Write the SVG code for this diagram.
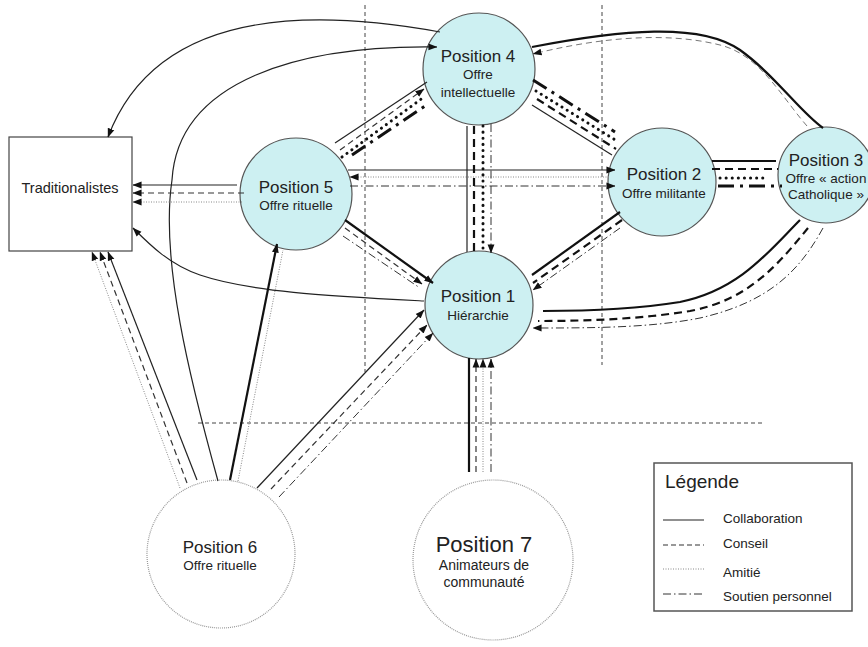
<svg xmlns="http://www.w3.org/2000/svg" width="868" height="647" viewBox="0 0 868 647">
<style>
text{font-family:"Liberation Sans",Arial,sans-serif;fill:#222}
.t{font-size:17px;text-anchor:middle}
.s{font-size:13.5px;text-anchor:middle}
.node{fill:#cdf0f2;stroke:#555;stroke-width:1.2}
.wnode{fill:#fff;stroke:#999;stroke-width:1.2;stroke-dasharray:1 1}
.sep{fill:none;stroke:#444;stroke-width:1;stroke-dasharray:4 3}
.cx path,.cx line,.lg line{fill:none}
.ah{fill:#111;stroke:none}
.col{stroke:#222;stroke-width:1.2}
.colT{stroke:#111;stroke-width:2.2}
.con{stroke:#333;stroke-width:1.2;stroke-dasharray:6 4}
.conT{stroke:#111;stroke-width:2.2;stroke-dasharray:8 5}
.ami{stroke:#888;stroke-width:1;stroke-dasharray:1 1.5}
.amiT{stroke:#111;stroke-width:3;stroke-dasharray:0.1 6;stroke-linecap:round}
.sou{stroke:#333;stroke-width:1;stroke-dasharray:8 3 1.5 3}
.souT{stroke:#111;stroke-width:3;stroke-dasharray:16 6 3 6}
.a{marker-end:url(#arr)}
</style>
<defs>
<marker id="arr" viewBox="0 0 10 10" refX="9.5" refY="5" markerUnits="userSpaceOnUse" markerWidth="9" markerHeight="9" orient="auto">
<path class="ah" d="M0,1.2 L10,5 L0,8.8 z"/>
</marker>
</defs>
<rect width="868" height="647" fill="#fff"/>
<g id="separators">
<line class="sep" x1="365" y1="5" x2="365" y2="372"/>
<line class="sep" x1="602" y1="5" x2="602" y2="365"/>
<line class="sep" x1="198" y1="423" x2="762" y2="423"/>
</g>
<g id="traditionalistes">
<rect x="9" y="137" width="123" height="114" fill="#fff" stroke="#444" stroke-width="1.2"/>
<text x="70" y="193" style="font-size:14.5px;text-anchor:middle">Traditionalistes</text>
</g>
<g id="position4">
<circle class="node" cx="479" cy="69" r="56"/>
<text class="t" x="478" y="62">Position 4</text>
<text class="s" x="478" y="79">Offre</text>
<text class="s" x="478" y="97">intellectuelle</text>
</g>
<g id="position5">
<circle class="node" cx="296" cy="194" r="56"/>
<text class="t" x="296" y="193">Position 5</text>
<text class="s" x="296" y="210">Offre rituelle</text>
</g>
<g id="position2">
<circle class="node" cx="662" cy="182" r="54"/>
<text class="t" x="664" y="180">Position 2</text>
<text class="s" x="664" y="198">Offre militante</text>
</g>
<g id="position3">
<circle class="node" cx="826" cy="175" r="48"/>
<text class="t" x="826" y="166">Position 3</text>
<text class="s" x="826" y="183">Offre « action</text>
<text class="s" x="826" y="199">Catholique »</text>
</g>
<g id="position1">
<circle class="node" cx="479" cy="305" r="54"/>
<text class="t" x="478" y="302">Position 1</text>
<text class="s" x="478" y="320">Hiérarchie</text>
</g>
<g id="position6">
<circle class="wnode" cx="221" cy="554" r="74"/>
<text class="t" x="220" y="553">Position 6</text>
<text class="s" x="220" y="570">Offre rituelle</text>
</g>
<g id="position7">
<circle class="wnode" cx="493" cy="560" r="80"/>
<text x="484" y="552" style="font-size:22px;text-anchor:middle">Position 7</text>
<text x="484" y="570" style="font-size:14px;text-anchor:middle">Animateurs de</text>
<text x="484" y="587" style="font-size:14px;text-anchor:middle">communauté</text>
</g>
<g id="connectors" class="cx">
<path class="col a" d="M440,32 C330,12 160,0 108,137"/>
<path class="col a" d="M218,481 C190,380 160,260 172,180 C178,80 300,45 437,47"/>
<path class="col a" d="M424,301 C330,296 250,292 200,275 C170,265 150,245 133,228"/>
<line class="col a" x1="237" y1="185" x2="133" y2="185"/>
<line class="con a" x1="244" y1="193" x2="133" y2="193"/>
<line class="ami a" x1="242" y1="202" x2="133" y2="202"/>
<line class="col a" x1="348" y1="170" x2="615" y2="170"/>
<line class="ami a" x1="609" y1="177" x2="350" y2="177"/>
<line class="sou a" x1="350" y1="186" x2="615" y2="186"/>
<line class="col" x1="335" y1="143" x2="427" y2="82"/>
<line class="con a" x1="340" y1="150" x2="424" y2="89"/>
<line class="amiT" x1="342" y1="157" x2="424" y2="97"/>
<line class="souT" x1="352" y1="155" x2="425" y2="106"/>
<line class="souT" x1="533" y1="80" x2="615" y2="132"/>
<line class="amiT" x1="536" y1="91" x2="617" y2="141"/>
<line class="conT" x1="537" y1="99" x2="616" y2="149"/>
<line class="col" x1="532" y1="105" x2="612" y2="155"/>
<line class="col" x1="467" y1="126" x2="467" y2="252"/>
<line class="conT" x1="474" y1="126" x2="474" y2="252"/>
<line class="amiT" x1="483" y1="126" x2="483" y2="252"/>
<line class="sou a" x1="491" y1="124" x2="491" y2="253"/>
<line class="colT a" x1="345" y1="220" x2="433" y2="283"/>
<line class="con a" x1="345" y1="228" x2="422" y2="284"/>
<line class="sou" x1="343" y1="236" x2="420" y2="288"/>
<line class="colT" x1="620" y1="212" x2="532" y2="275"/>
<line class="conT" x1="622" y1="220" x2="533" y2="283"/>
<line class="sou a" x1="620" y1="228" x2="533" y2="290"/>
<path class="colT" d="M532,47 C620,30 700,22 740,50 C775,75 800,112 823,128"/>
<path class="con a" style="stroke:#777;stroke-width:1" d="M807,126 C780,95 760,55 720,45 C660,30 590,40 533,54"/>
<line class="colT" x1="712" y1="161" x2="776" y2="161"/>
<line class="conT" x1="712" y1="169" x2="778" y2="169"/>
<line class="amiT" x1="720" y1="178" x2="768" y2="178"/>
<line class="souT" x1="718" y1="186" x2="782" y2="186"/>
<path class="colT" d="M800,220 C770,250 740,290 680,302 C630,310 580,311 543,311"/>
<path class="conT" d="M808,228 C780,262 750,300 690,311 C640,319 590,321 538,321"/>
<path class="sou a" d="M823,228 C800,270 770,302 700,318 C650,328 590,328 533,328"/>
<line class="ami a" x1="180" y1="488" x2="92" y2="252"/>
<line class="con a" x1="187" y1="483" x2="100" y2="252"/>
<line class="col a" x1="197" y1="480" x2="108" y2="252"/>
<line class="colT a" x1="230" y1="480" x2="277" y2="244"/>
<line class="ami" x1="238" y1="481" x2="283" y2="250"/>
<line class="col a" x1="257" y1="488" x2="424" y2="310"/>
<line class="con a" x1="271" y1="489" x2="427" y2="325"/>
<line class="sou a" x1="279" y1="497" x2="433" y2="333"/>
<line class="colT" x1="469" y1="472" x2="469" y2="358"/>
<line class="con a" x1="476" y1="472" x2="476" y2="359"/>
<line class="ami a" x1="483" y1="472" x2="483" y2="359"/>
<line class="sou a" x1="491" y1="472" x2="491" y2="359"/>
</g>
<g id="legend" class="lg">
<rect x="654" y="463" width="198" height="148" fill="#fff" stroke="#555" stroke-width="1.5"/>
<text x="665" y="488" style="font-size:19px">Légende</text>
<line class="col" x1="663" y1="520" x2="704" y2="520"/>
<line class="con" style="stroke-dasharray:5 3" x1="663" y1="545" x2="704" y2="545"/>
<line class="ami" x1="663" y1="569" x2="704" y2="569"/>
<line class="sou" x1="663" y1="594" x2="704" y2="594"/>
<text x="723" y="523" style="font-size:13.5px">Collaboration</text>
<text x="723" y="548" style="font-size:13.5px">Conseil</text>
<text x="723" y="577" style="font-size:13.5px">Amitié</text>
<text x="723" y="601" style="font-size:13.5px">Soutien personnel</text>
</g>
</svg>
